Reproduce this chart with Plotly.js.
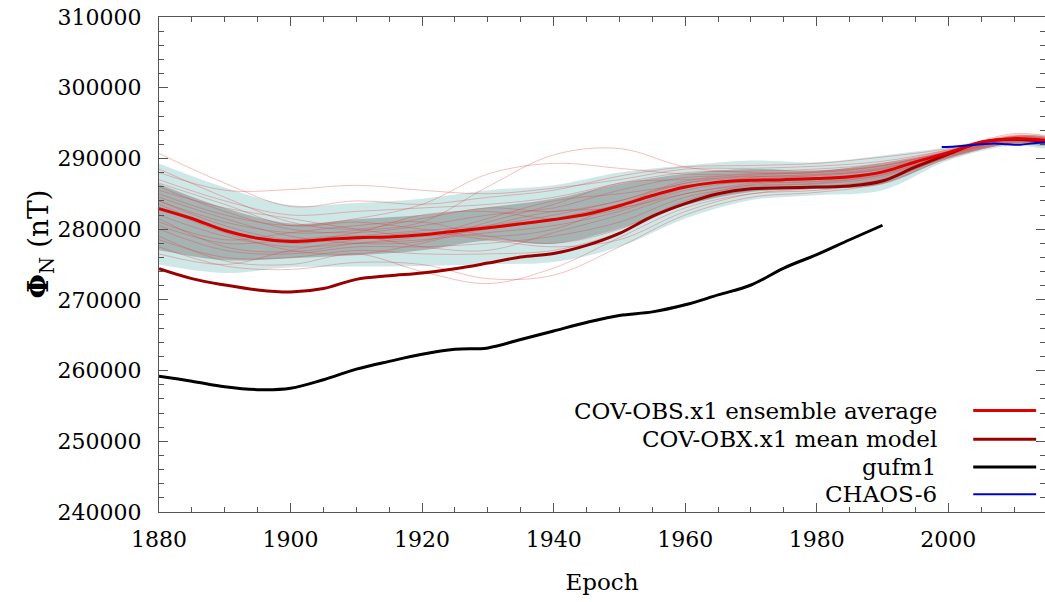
<!DOCTYPE html>
<html>
<head>
<meta charset="utf-8">
<script src="https://cdn.plot.ly/plotly-3.0.1.min.js"></script>
<style>html,body{margin:0;padding:0;background:#fff;}#chart{width:1045px;height:602px;}</style>
</head>
<body>
<div id="chart"></div>
<script>
// ---- data ----
const years5 = [1880,1885,1890,1895,1900,1905,1910,1915,1920,1925,1930,1935,1940,1945,1950,1955,1960,1965,1970,1975,1980,1985,1990,1995,2000,2005,2010,2015];
const covObsAverage = [282900,281500,279800,278700,278250,278500,278800,278900,279200,279700,280200,280750,281350,282100,283300,284750,285950,286650,286900,287000,287150,287400,288100,289500,290800,292300,292800,292550];
const covObxMean = [274400,273000,272100,271400,271100,271600,272900,273400,273800,274400,275200,276050,276550,277700,279400,281800,283600,285000,285700,285850,285950,286100,286800,288800,290600,292300,292700,292350];
const gufmYears = [1880,1885,1890,1895,1900,1905,1910,1915,1920,1925,1930,1935,1940,1945,1950,1955,1960,1965,1970,1975,1980,1985,1990];
const gufm1 = [259200,258500,257700,257300,257500,258700,260200,261300,262300,263000,263200,264400,265600,266800,267800,268300,269300,270700,272100,274500,276400,278500,280550];
const chaosYears = [1999,2001,2003,2005,2007,2009,2011,2013,2015];
const chaos6 = [291600,291700,291850,292000,292100,292000,291950,292150,292250];

const years10 = [1880,1890,1900,1910,1920,1930,1940,1950,1960,1970,1980,1990,2000,2010,2015];
const cyanUpper = [289300,285900,283400,283700,284300,285500,286200,288000,289000,289700,289450,290400,291600,293250,293000];
const cyanLower = [275000,273800,274600,274700,274800,275050,275350,277500,281500,284100,284800,285500,289700,291850,291600];
const grayUpper = [286400,283000,280800,281400,282000,283100,284300,286400,287850,288500,288300,289250,290900,292750,292500];
const grayLower = [277000,275600,275900,276300,277000,278400,277950,280100,283350,285250,285700,286350,290000,292100,291900];

const members = [
  [290700,286500,283200,284000,283500,284500,285500,287500,288800,289000,289300,290200,291400,293500,293200],
  [288000,285500,285600,286200,285500,285000,285800,287000,288500,288600,288900,289600,291200,293000,292800],
  [284000,281000,279500,279800,281000,286000,290500,291400,288800,288000,288200,289000,291000,293200,293000],
  [285000,282000,280500,281500,283500,287800,289300,288600,287800,287800,288100,289300,290900,293100,292900],
  [277500,274800,274300,275300,275000,273000,273500,277500,282000,284500,285200,286500,290000,292200,292000],
  [279000,275500,275000,276500,274000,272300,274500,278800,283000,285000,285500,286800,290300,292400,292100],
  [283500,280000,278000,279000,279800,280500,282000,284000,286500,287200,287300,288200,290800,292800,292600],
  [282000,279000,277500,278000,278500,279500,280500,282500,285500,286800,287000,287900,290600,292700,292400],
  [286000,282500,280000,279500,280500,282000,283000,285500,287300,287500,287500,288500,291000,293000,292800],
  [280000,277000,276500,277500,277500,278000,279000,281000,284500,286000,286400,287400,290400,292500,292300],
  [284500,281500,279000,278000,278300,281000,283500,286500,287000,287400,287800,288700,290900,292900,292700],
  [281000,278500,279500,280500,281000,279000,278000,280000,284000,286300,286700,287600,290500,292600,292400],
  [287000,284000,282000,282500,283000,283500,284500,286500,288000,288200,288500,289300,291200,293300,293000],
  [278500,276000,276000,277000,276500,276500,277000,279500,283500,285500,286000,287100,290200,292300,292100],
  [285500,283000,281500,280000,279000,280000,281500,283500,286000,287000,287600,288600,290800,292900,292600],
  [276500,275000,277000,278500,279500,278500,277500,278500,282500,285000,285800,287000,290200,292400,292200],
  [283000,279500,277000,276500,278000,280500,282500,283000,285000,286500,287200,288100,290700,292800,292500],
  [288500,284500,281000,280000,281500,283000,282500,284000,286800,287800,288000,289000,291100,293100,292900],
  [280500,278000,278500,279000,277500,277000,279500,282000,285000,286200,286500,287700,290500,292600,292300],
  [284000,280500,278500,279500,282000,282500,281500,282800,285800,287300,287700,288400,290800,292800,292600],
  [281500,277500,276800,278000,279000,281500,284000,285000,286200,286600,286800,287800,290600,292700,292400],
  [286500,283500,280500,281000,280000,279000,280000,283500,286500,287600,288000,288900,291000,293100,292800]
];

const legendNames = ['COV-OBS.x1 ensemble average','COV-OBX.x1 mean model','gufm1','CHAOS-6'];
const legendColors = ['#e00000','#9b0000','#000000','#0000cc'];
const legendWidths = [3,3,3,2];
const xTickVals = [1880,1900,1920,1940,1960,1980,2000];
const yTickVals = [240000,250000,260000,270000,280000,290000,300000,310000];

// ---- traces ----
const FONT = 'DejaVu Serif';
const traces = [];
const rev = a => a.slice().reverse();
traces.push({x: years10.concat(rev(years10)), y: cyanUpper.concat(rev(cyanLower)), fill:'toself', fillcolor:'rgba(198,228,228,0.85)', line:{width:0, shape:'spline'}, mode:'lines', hoverinfo:'skip', showlegend:false});
traces.push({x: years10.concat(rev(years10)), y: grayUpper.concat(rev(grayLower)), fill:'toself', fillcolor:'rgba(125,125,125,0.5)', line:{width:0, shape:'spline'}, mode:'lines', hoverinfo:'skip', showlegend:false});
members.forEach(m => traces.push({x: years10, y: m, mode:'lines', line:{color:'rgba(225,60,60,0.33)', width:1, shape:'spline'}, hoverinfo:'skip', showlegend:false}));
traces.push({x: gufmYears, y: gufm1, mode:'lines', line:{color:legendColors[2], width:3, shape:'spline'}, name:legendNames[2], showlegend:false});
traces.push({x: years5, y: covObxMean, mode:'lines', line:{color:legendColors[1], width:3, shape:'spline'}, name:legendNames[1], showlegend:false});
traces.push({x: years5, y: covObsAverage, mode:'lines', line:{color:legendColors[0], width:3, shape:'spline'}, name:legendNames[0], showlegend:false});
traces.push({x: chaosYears, y: chaos6, mode:'lines', line:{color:legendColors[3], width:2, shape:'spline'}, name:legendNames[3], showlegend:false});

// ---- custom legend (text left of line sample) ----
const legRows = [0.205, 0.147, 0.091, 0.036];
const annotations = legendNames.map((n,i) => ({xref:'paper', yref:'paper', x:0.879, y:legRows[i], xanchor:'right', yanchor:'middle', text:n, showarrow:false, borderpad:0, font:{family:FONT, size:23, color:'#000'}}));
annotations.push({xref:'paper', yref:'paper', x:0.4165, y:1, xanchor:'center', yanchor:'bottom', yshift:14, text:'(a)', showarrow:false, font:{family:FONT, size:22, color:'#000'}});
// y-axis title as rotated annotation
annotations.push({xref:'paper', yref:'paper', x:-0.134, y:0.541, xanchor:'center', yanchor:'middle', textangle:-90, text:'<b>Φ</b><sub>N</sub> (nT)', showarrow:false, font:{family:FONT, size:28, color:'#000'}});
const shapes = legendNames.map((n,i) => ({type:'line', xref:'paper', yref:'paper', x0:0.919, x1:0.99, y0:legRows[i], y1:legRows[i], line:{color:legendColors[i], width:legendWidths[i]}}));

const axisCommon = {showgrid:false, zeroline:false, showline:true, linecolor:'#555', linewidth:1, mirror:'ticks', ticks:'inside', tickcolor:'#555', tickwidth:1, ticklen:9, tickfont:{family:FONT, size:22, color:'#000'}};

const layout = {
  width:1045, height:602,
  font:{family:FONT, size:22, color:'#000'},
  margin:{l:159, r:0, t:16.5, b:90},
  paper_bgcolor:'#fff', plot_bgcolor:'#fff',
  showlegend:false,
  xaxis: Object.assign({}, axisCommon, {range:[1880,2014.7], tickvals:xTickVals, ticktext:xTickVals.map(String), ticklabelstandoff:8, minor:{dtick:5, tick0:1880, ticks:'inside', ticklen:5, tickcolor:'#555'}, title:{text:'Epoch', font:{family:FONT, size:23, color:'#000'}, standoff:22}}),
  yaxis: Object.assign({}, axisCommon, {range:[240000,310000], tickvals:yTickVals, ticktext:yTickVals.map(String), ticklabelstandoff:12, minor:{dtick:2000, tick0:240000, ticks:'inside', ticklen:5, tickcolor:'#555'}}),
  annotations: annotations,
  shapes: shapes
};

Plotly.newPlot('chart', traces, layout, {staticPlot:true, displayModeBar:false});
</script>
</body>
</html>
